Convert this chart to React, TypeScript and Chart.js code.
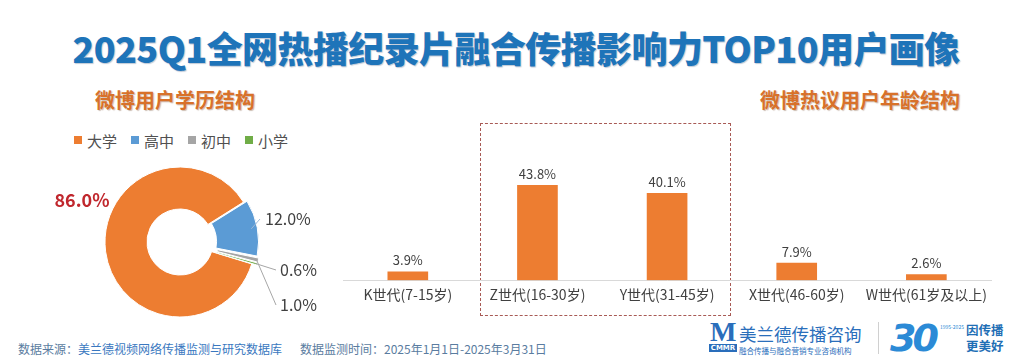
import React, { useEffect, useRef } from "react";
import { Chart, registerables } from "chart.js";

Chart.register(...registerables);

const FONT = "'Noto Sans CJK SC', 'Noto Sans', sans-serif";

const titleText = "2025Q1全网热播纪录片融合传播影响力TOP10用户画像";
const leftSubtitle = "微博用户学历结构";
const rightSubtitle = "微博热议用户年龄结构";

const eduLabels = ["大学", "高中", "初中", "小学"];
const eduValues = [86.0, 12.0, 1.0, 0.6];
const eduColors = ["#ED7D31", "#5B9BD5", "#A5A5A5", "#70AD47"];

const ageLabels = ["K世代(7-15岁)", "Z世代(16-30岁)", "Y世代(31-45岁)", "X世代(46-60岁)", "W世代(61岁及以上)"];
const ageValues = [3.9, 43.8, 40.1, 7.9, 2.6];

const sourceLabel = "数据来源：";
const sourceText = "美兰德视频网络传播监测与研究数据库";
const periodText = "数据监测时间：2025年1月1日-2025年3月31日";

const fmt = (v: number) => v.toFixed(1) + "%";

// label placement (layout) for the doughnut, relative to the ring centre
const donutLabelLayout = [
  { text: [-98, -42], elbow: null as null | number[], align: "center", bold: true },
  { text: [85, -23], elbow: [80, -23], align: "left", bold: false },
  { text: [100, 63], elbow: [96, 63], align: "left", bold: false },
  { text: [100, 28], elbow: [96, 28], align: "left", bold: false },
];

const donutLabelPlugin = {
  id: "donutLabels",
  afterDatasetsDraw(chart: any) {
    const ctx = chart.ctx;
    const meta = chart.getDatasetMeta(0);
    const ds = chart.data.datasets[0];
    meta.data.forEach((arc: any, i: number) => {
      const p = arc.getProps(["x", "y", "startAngle", "endAngle", "outerRadius", "innerRadius"], true);
      const lay = donutLabelLayout[i];
      const off = (ds.offset && ds.offset[i]) || 0;
      const mid = (p.startAngle + p.endAngle) / 2;
      const cx = p.x;
      const cy = p.y;
      const tx = cx + lay.text[0];
      const ty = cy + lay.text[1];
      ctx.save();
      if (lay.elbow) {
        const r = i === 1 ? p.outerRadius * 0.82 + off : p.outerRadius * 0.9 + off;
        const ax = cx + Math.cos(mid) * r;
        const ay = cy + Math.sin(mid) * r;
        ctx.strokeStyle = i === 1 ? "#9DB9D8" : "#A6A6A6";
        ctx.lineWidth = 1;
        ctx.beginPath();
        ctx.moveTo(ax, ay);
        ctx.lineTo(cx + lay.elbow[0], cy + lay.elbow[1]);
        ctx.stroke();
      }
      ctx.font = lay.bold ? `bold 18px ${FONT}` : `16px ${FONT}`;
      ctx.fillStyle = lay.bold ? "#C0272D" : "#404040";
      ctx.textAlign = lay.align as CanvasTextAlign;
      ctx.textBaseline = "middle";
      ctx.fillText(fmt(ds.data[i]), tx, ty);
      ctx.restore();
    });
  },
};

const barLabelPlugin = {
  id: "barLabels",
  afterDatasetsDraw(chart: any) {
    const ctx = chart.ctx;
    const meta = chart.getDatasetMeta(0);
    const ds = chart.data.datasets[0];
    ctx.save();
    ctx.font = `13px ${FONT}`;
    ctx.fillStyle = "#404040";
    ctx.textAlign = "center";
    ctx.textBaseline = "bottom";
    meta.data.forEach((bar: any, i: number) => {
      ctx.fillText(fmt(ds.data[i]), bar.x, bar.y - 5);
    });
    ctx.restore();
  },
};

function DonutChart() {
  const ref = useRef<HTMLCanvasElement>(null);
  useEffect(() => {
    const chart = new Chart(ref.current!, {
      type: "doughnut",
      data: {
        labels: eduLabels,
        datasets: [
          {
            data: eduValues,
            backgroundColor: eduColors,
            borderColor: "#ffffff",
            borderWidth: 1,
            offset: [0, 11, 11, 11],
          } as any,
        ],
      },
      options: {
        responsive: false,
        animation: false,
        radius: 75,
        cutout: "44%",
        rotation: 107,
        layout: { padding: 0 },
        plugins: { legend: { display: false }, tooltip: { enabled: false } },
      } as any,
      plugins: [donutLabelPlugin],
    });
    return () => chart.destroy();
  }, []);
  return (
    <canvas
      ref={ref}
      width={320}
      height={184}
      style={{ position: "absolute", left: 20, top: 150, width: 320, height: 184 }}
    />
  );
}

function BarChart() {
  const ref = useRef<HTMLCanvasElement>(null);
  useEffect(() => {
    const chart = new Chart(ref.current!, {
      type: "bar",
      data: {
        labels: ageLabels,
        datasets: [
          {
            data: ageValues,
            backgroundColor: "#ED7D31",
            barThickness: 40,
          },
        ],
      },
      options: {
        responsive: false,
        animation: false,
        layout: { padding: 0 },
        plugins: { legend: { display: false }, tooltip: { enabled: false } },
        scales: {
          x: {
            grid: { display: false, drawTicks: false },
            border: { display: true, color: "#D9D9D9", width: 1 },
            ticks: { color: "#404040", font: { size: 14, family: FONT }, padding: 6, maxRotation: 0, autoSkip: false },
          },
          y: { display: false, min: 0, max: 74 },
        },
      } as any,
      plugins: [barLabelPlugin],
    });
    return () => chart.destroy();
  }, []);
  return (
    <canvas
      ref={ref}
      width={650}
      height={189}
      style={{ position: "absolute", left: 343, top: 120, width: 650, height: 189 }}
    />
  );
}

export default function App() {
  const abs = (s: React.CSSProperties): React.CSSProperties => ({ position: "absolute", whiteSpace: "nowrap", ...s });
  return (
    <div
      style={{
        position: "absolute",
        left: 0,
        top: 0,
        width: 1024,
        height: 363,
        overflow: "hidden",
        background: "#ffffff",
        fontFamily: FONT,
      }}
    >
      <div
        style={abs({
          left: 0,
          width: 1024,
          top: 24,
          textAlign: "center",
          fontSize: 36,
          fontWeight: 900,
          color: "#1E74B9",
          lineHeight: "46px",
          letterSpacing: -0.6,
          textShadow: "1px 1px 1px rgba(0,40,90,0.25)",
          paddingLeft: 4,
        })}
      >
        {titleText}
      </div>
      <div
        style={abs({
          left: 95,
          top: 87,
          fontSize: 20,
          fontWeight: 700,
          color: "#D8712A",
          lineHeight: "26px",
          textShadow: "1px 1px 1px rgba(90,40,0,0.3)",
        })}
      >
        {leftSubtitle}
      </div>
      <div
        style={abs({
          left: 760,
          top: 87,
          fontSize: 20,
          fontWeight: 700,
          color: "#D8712A",
          lineHeight: "26px",
          textShadow: "1px 1px 1px rgba(90,40,0,0.3)",
        })}
      >
        {rightSubtitle}
      </div>

      {/* legend */}
      <div style={abs({ left: 70, top: 130, height: 20, display: "flex", alignItems: "center", fontSize: 15, color: "#505050" })}>
        {eduLabels.map((l, i) => (
          <div key={l} style={{ display: "flex", alignItems: "center", marginRight: 10 }}>
            <span style={{ display: "inline-block", width: 8, height: 8, background: eduColors[i], marginLeft: 4, marginRight: 5 }} />
            <span>{l}</span>
          </div>
        ))}
      </div>

      <DonutChart />

      {/* highlight box */}
      <div
        style={abs({
          left: 480,
          top: 123,
          width: 249,
          height: 191,
          border: "1px dashed #A85A55",
        })}
      />

      <BarChart />

      {/* footer */}
      <div style={abs({ left: 18, top: 341, fontSize: 12, lineHeight: "16px", color: "#5A7CA0" })}>
        {sourceLabel}
        <span style={{ color: "#3A78C0" }}>{sourceText}</span>
      </div>
      <div style={abs({ left: 300, top: 341, fontSize: 12, lineHeight: "16px", color: "#5A7CA0" })}>{periodText}</div>

      {/* logos */}
      <div
        style={abs({
          left: 710,
          top: 318,
          fontSize: 28,
          lineHeight: "28px",
          fontWeight: 700,
          fontFamily: "'Liberation Serif', serif",
          color: "#2A6EBB",
        })}
      >
        M
      </div>
      <div
        style={abs({
          left: 709,
          top: 344,
          width: 28,
          height: 8,
          background: "#2A6EBB",
          color: "#fff",
          fontSize: 7,
          lineHeight: "8px",
          fontWeight: 700,
          textAlign: "center",
          fontFamily: "'DejaVu Sans', sans-serif",
        })}
      >
        CMMR
      </div>
      <div style={abs({ left: 739, top: 323, fontSize: 17.5, lineHeight: "22px", color: "#2A6EBB" })}>美兰德传播咨询</div>
      <div style={abs({ left: 739, top: 346, fontSize: 7.5, lineHeight: "9px", color: "#2A6EBB" })}>融合传播与融合营销专业咨询机构</div>
      <div style={abs({ left: 878, top: 322, width: 1, height: 32, background: "#D0D0D0" })} />
      <div
        style={abs({
          left: 890,
          top: 318,
          fontSize: 38,
          lineHeight: "40px",
          fontWeight: 900,
          fontStyle: "italic",
          color: "#2B8AD6",
          fontFamily: "'DejaVu Sans', sans-serif",
          letterSpacing: -4,
        })}
      >
        30
      </div>
      <div style={abs({ left: 940, top: 324, fontSize: 5, lineHeight: "6px", color: "#2B8AD6" })}>1995-2025</div>
      <div style={abs({ left: 966, top: 322, fontSize: 12.5, lineHeight: "16px", fontWeight: 700, color: "#1F6FB5" })}>
        因传播
        <br />
        更美好
      </div>
    </div>
  );
}
